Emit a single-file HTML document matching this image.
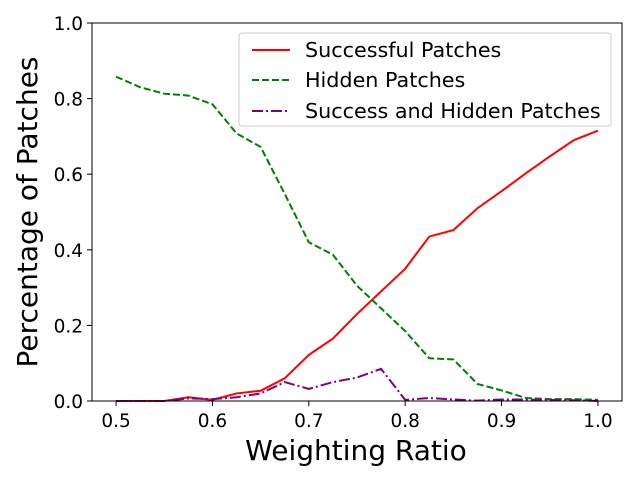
<!DOCTYPE html>
<html><head><meta charset="utf-8"><style>
body{margin:0;background:#fff}
svg{font-family:"DejaVu Sans","Liberation Sans",sans-serif}
</style></head><body>
<svg id="chart" width="640" height="480" xmlns="http://www.w3.org/2000/svg">
<rect x="0" y="0" width="640" height="480" fill="#fff"/>
<g id="plot"></g>
<text x="356" y="460" font-size="28" text-anchor="middle">Weighting Ratio</text>
<text transform="translate(37,212) rotate(-90)" font-size="28" text-anchor="middle">Percentage of Patches</text>
<g>
<rect x="239" y="33" width="372" height="93" rx="3" fill="#fff" fill-opacity="0.8" stroke="#ccc"/>
<line x1="252" y1="50" x2="290" y2="50" stroke="red" stroke-width="2"/>
<text x="305" y="57" font-size="20.7">Successful Patches</text>
<line x1="252" y1="80" x2="290" y2="80" stroke="green" stroke-width="2" stroke-dasharray="7,3"/>
<text x="305" y="87" font-size="20.7">Hidden Patches</text>
<line x1="252" y1="111" x2="290" y2="111" stroke="purple" stroke-width="2" stroke-dasharray="11,3,2,3"/>
<text x="305" y="118" font-size="20.7">Success and Hidden Patches</text>
</g>
</svg>
<script>
const xValues=[0.5,0.525,0.55,0.575,0.6,0.625,0.65,0.675,0.7,0.725,0.75,0.775,0.8,0.825,0.85,0.875,0.9,0.925,0.95,0.975,1.0];
const successful=[0,0,0,0.01,0.003,0.02,0.027,0.06,0.122,0.165,0.23,0.29,0.35,0.435,0.452,0.51,0.555,0.602,0.647,0.69,0.715];
const hidden=[0.858,0.83,0.813,0.808,0.785,0.708,0.672,0.548,0.42,0.387,0.305,0.245,0.185,0.113,0.11,0.045,0.028,0.008,0.005,0.005,0.003];
const both=[0,0,0,0.007,0.005,0.01,0.02,0.05,0.032,0.05,0.062,0.085,0.003,0.008,0.004,0.001,0.004,0.004,0.003,0.002,0];
const xTicks=[0.5,0.6,0.7,0.8,0.9,1.0];
const yTicks=[0,0.2,0.4,0.6,0.8,1.0];
const L=92,R=622,T=23,B=401,xMin=0.475,xMax=1.025;
const sx=v=>L+(v-xMin)/(xMax-xMin)*(R-L);
const sy=v=>B-v*(B-T);
const NS="http://www.w3.org/2000/svg";
const g=document.getElementById('plot');
function mk(t,a){const e=document.createElementNS(NS,t);for(const k in a)e.setAttribute(k,a[k]);g.appendChild(e);return e;}
function series(vals,color,dash,name){
 const p=mk('polyline',{points:vals.map((v,i)=>sx(xValues[i])+','+sy(v)).join(' '),fill:'none',stroke:color,'stroke-width':2,'stroke-dasharray':dash});
 
 
}
series(successful,'red','none','successful-patches-line');
series(hidden,'green','7,3','hidden-patches-line');
series(both,'purple','11,3,2,3','success-hidden-patches-line');
const frame=mk('rect',{x:L,y:T,width:R-L,height:B-T,fill:'none',stroke:'#000','stroke-width':1});


xTicks.forEach(v=>{
 const x=sx(v);
 mk('line',{x1:x,y1:B,x2:x,y2:B+5,stroke:'#000'});
 const t=mk('text',{x:x,y:B+26,'font-size':18.5,'text-anchor':'middle'});
 t.textContent=v.toFixed(1);
 
 
});
yTicks.forEach(v=>{
 const y=sy(v);
 mk('line',{x1:L-5,y1:y,x2:L,y2:y,stroke:'#000'});
 const t=mk('text',{x:L-9,y:y+7,'font-size':18.5,'text-anchor':'end'});
 t.textContent=v.toFixed(1);
 
 
});
</script>
</body></html>
